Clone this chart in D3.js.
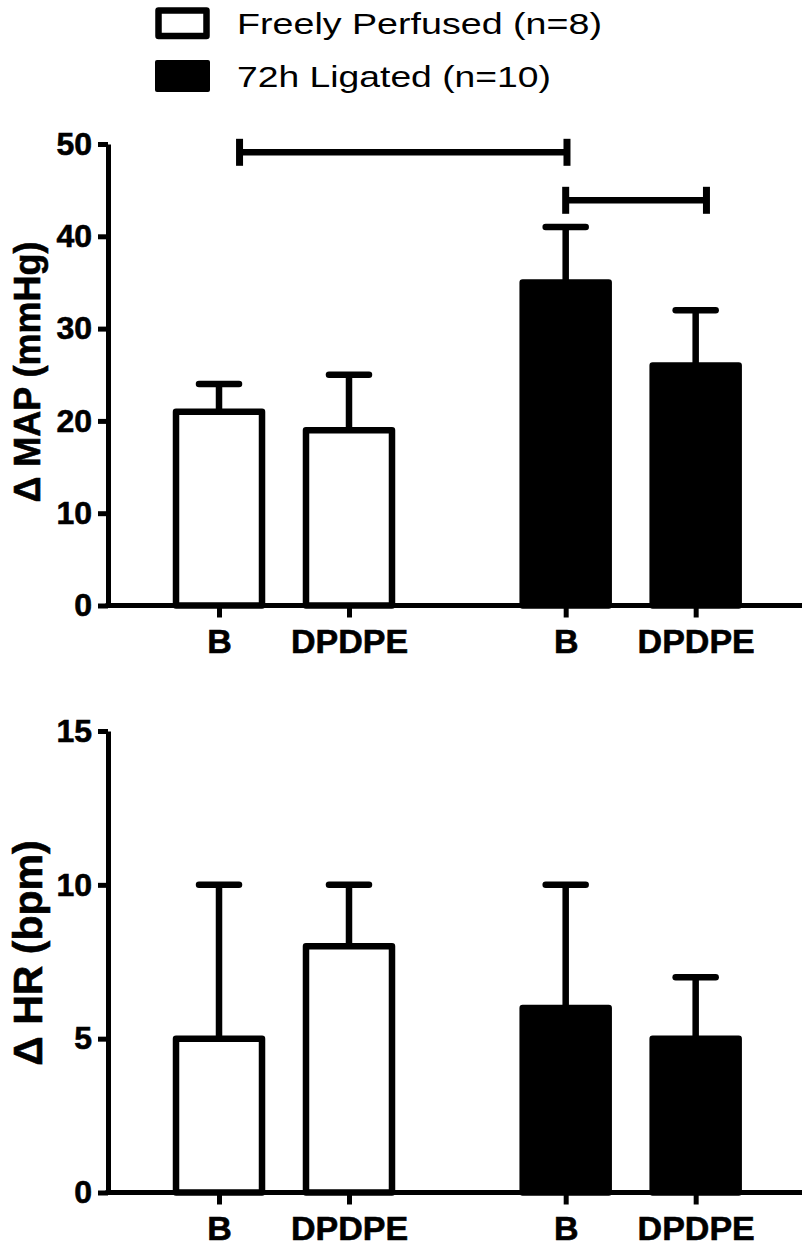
<!DOCTYPE html>
<html>
<head>
<meta charset="utf-8">
<script src="https://cdn.jsdelivr.net/npm/d3@7"></script>
<style>
  html, body { margin: 0; padding: 0; background: #fff; }
  svg text { font-family: "Liberation Sans", Arial, sans-serif; fill: #000; }
</style>
</head>
<body>
<script>
// groups / legend
const groupNames = ["Freely Perfused (n=8)", "72h Ligated (n=10)"];
const groupFills = ["#fff", "#000"];

// bars (left to right)
const barLabels = ["B", "DPDPE", "B", "DPDPE"];
const barGroup = [0, 0, 1, 1];
const barPos = [0, 1, 2.667, 3.667];

// delta MAP (mmHg), mean and SEM
const mapMean = [21, 19, 35, 26];
const mapErr = [3, 6, 6, 6];
const mapTicks = [0, 10, 20, 30, 40, 50];
// significance brackets, in bar-position units
const mapBrackets = [
  { from: 0.158, to: 2.677, y: 49.1 },
  { from: 2.667, to: 3.75, y: 43.9 },
];

// delta HR (bpm), mean and SEM
const hrMean = [5, 8, 6, 5];
const hrErr = [5, 2, 4, 2];
const hrTicks = [0, 5, 10, 15];

const W = 807, H = 1253;
const svg = d3.select("body").append("svg").attr("width", W).attr("height", H);

const x = d3.scaleLinear().domain([-0.854, 4.485]).range([108, 802]);
const barHalf = 43;
const SW = 6.5;

// legend
const legend = svg.append("g");
groupNames.forEach((name, i) => {
  const g = legend.append("g").attr("transform", `translate(0,${i * 53})`);
  if (i === 0) {
    g.append("rect").attr("x", 158.5).attr("y", 10.5).attr("width", 48).attr("height", 25.5)
      .attr("fill", groupFills[i]).attr("stroke", "#000").attr("stroke-width", SW)
      .attr("stroke-linejoin", "round");
  } else {
    g.append("rect").attr("x", 155).attr("y", 7).attr("width", 55).attr("height", 32).attr("rx", 2)
      .attr("fill", groupFills[i]);
  }
  g.append("text").attr("x", 237).attr("y", 34).attr("font-size", 29.5)
    .attr("textLength", i === 0 ? 365 : 314).attr("lengthAdjust", "spacingAndGlyphs")
    .text(name);
});

function panel(means, errs, ticks, yMax, yRange, title, titleX, titleY, titleSize, brackets) {
  const y = d3.scaleLinear().domain([0, yMax]).range(yRange);
  const g = svg.append("g");

  const bars = g.selectAll(".bar").data(means).join("g");
  bars.append("rect")
    .attr("x", (d, i) => x(barPos[i]) - barHalf)
    .attr("y", d => y(d))
    .attr("width", barHalf * 2)
    .attr("height", d => y(0) - y(d))
    .attr("fill", (d, i) => groupFills[barGroup[i]])
    .attr("stroke", "#000").attr("stroke-width", SW).attr("stroke-linejoin", "round");
  bars.append("line")
    .attr("x1", (d, i) => x(barPos[i])).attr("x2", (d, i) => x(barPos[i]))
    .attr("y1", d => y(d)).attr("y2", (d, i) => y(d + errs[i]))
    .attr("stroke", "#000").attr("stroke-width", SW);
  bars.append("line")
    .attr("x1", (d, i) => x(barPos[i]) - 20).attr("x2", (d, i) => x(barPos[i]) + 20)
    .attr("y1", (d, i) => y(d + errs[i])).attr("y2", (d, i) => y(d + errs[i]))
    .attr("stroke", "#000").attr("stroke-width", SW).attr("stroke-linecap", "round");

  // axes
  const yAxis = g.append("g").attr("transform", `translate(${x.range()[0]},0)`)
    .call(d3.axisLeft(y).tickValues(ticks).tickSize(10).tickSizeOuter(0).tickPadding(6));
  yAxis.selectAll("text").attr("font-size", 32).attr("font-weight", "bold");

  const xAxis = g.append("g").attr("transform", `translate(0,${y(0)})`)
    .call(d3.axisBottom(x).tickValues(barPos).tickFormat((d, i) => barLabels[i])
      .tickSize(12).tickSizeOuter(0).tickPadding(11));
  xAxis.selectAll("text").attr("font-size", 34).attr("font-weight", "bold");

  [yAxis, xAxis].forEach(a => {
    a.select(".domain").attr("stroke-width", 5);
    a.selectAll(".tick line").attr("stroke-width", 5);
    a.selectAll("text").style("font-family", '"Liberation Sans", Arial, sans-serif')
      .attr("stroke", "#000").attr("stroke-width", 0.6);
  });
  xAxis.select(".domain").attr("d", `M${x.range()[0] - 2.5},0H${x.range()[1]}`);

  // y title
  g.append("text")
    .attr("transform", `translate(${titleX},${titleY}) rotate(-90)`)
    .attr("text-anchor", "middle").attr("font-size", titleSize).attr("font-weight", "bold")
    .attr("stroke", "#000").attr("stroke-width", 0.6)
    .text(title);

  // brackets
  (brackets || []).forEach(b => {
    const bg = g.append("g").attr("stroke", "#000").attr("stroke-width", SW);
    bg.append("line").attr("x1", x(b.from)).attr("x2", x(b.to)).attr("y1", y(b.y)).attr("y2", y(b.y));
    [b.from, b.to].forEach(p => {
      bg.append("line").attr("x1", x(p)).attr("x2", x(p))
        .attr("y1", y(b.y) - 13.5).attr("y2", y(b.y) + 13.5).attr("stroke-width", 7);
    });
  });
}

panel(mapMean, mapErr, mapTicks, 50, [605.5, 144], "Δ MAP (mmHg)", 40, 372, 36, mapBrackets);
panel(hrMean, hrErr, hrTicks, 15, [1192.5, 731], "Δ HR (bpm)", 42, 953, 41, null);
</script>
</body>
</html>
